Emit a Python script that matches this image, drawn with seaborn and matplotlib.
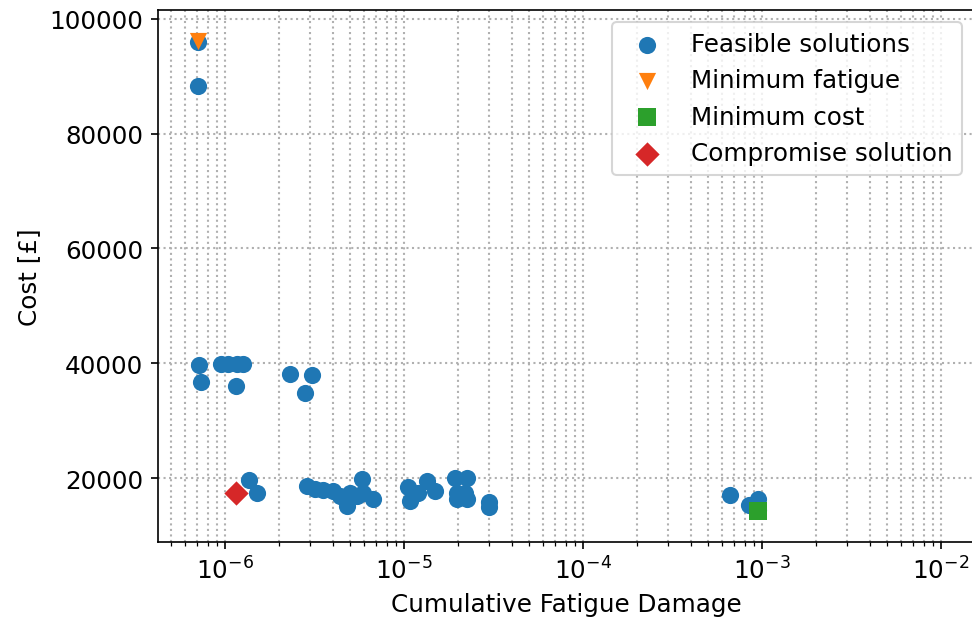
import numpy as np
import pandas as pd
import matplotlib
matplotlib.use("Agg")
import matplotlib.pyplot as plt
import seaborn as sns

# feasible solutions (damage, cost in GBP)
feasible_damage = [7.05e-7, 7.1e-7, 7.17e-7, 7.33e-7, 9.51e-7, 1.045e-6, 1.173e-6, 1.267e-6,
                   1.149e-6, 2.31e-6, 3.08e-6, 2.79e-6,
                   1.363e-6, 1.517e-6,
                   2.86e-6, 3.19e-6, 3.55e-6, 4.03e-6, 4.40e-6, 4.79e-6, 4.79e-6, 5.00e-6,
                   5.45e-6, 5.81e-6, 5.93e-6, 6.75e-6,
                   1.058e-5, 1.081e-5, 1.203e-5, 1.34e-5, 1.49e-5,
                   1.93e-5, 2.24e-5, 1.97e-5, 2.19e-5, 1.97e-5, 2.24e-5,
                   2.99e-5, 2.99e-5,
                   6.64e-4, 9.55e-4, 8.50e-4, 9.55e-4]
feasible_cost = [95900, 88300, 39700, 36700, 39850, 39850, 39800, 39800,
                 36100, 38100, 37950, 34800,
                 19700, 17400,
                 18650, 18100, 17950, 17800, 16900, 15200, 16100, 17500,
                 16900, 19800, 17500, 16450,
                 18400, 16050, 17500, 19550, 17800,
                 20100, 20100, 17500, 17500, 16350, 16350,
                 15800, 15000,
                 17050, 16450, 15300, 14400]

min_fatigue_damage = [7.05e-7]
min_fatigue_cost = [96100]
min_cost_damage = [9.55e-4]
min_cost_cost = [14300]
compromise_damage = [1.149e-6]
compromise_cost = [17400]

plt.rcParams['font.size'] = 11.8

fig, ax = plt.subplots(figsize=(6.48, 4.1733), dpi=150)
fig.subplots_adjust(left=0.1626, right=1.0026, bottom=0.1326, top=0.9824)

sns.scatterplot(x=feasible_damage, y=feasible_cost, color='#1f77b4', marker='o',
                s=68, linewidth=0, label='Feasible solutions', ax=ax, zorder=3)
sns.scatterplot(x=min_fatigue_damage, y=min_fatigue_cost, color='#ff7f0e', marker='v',
                s=68, linewidth=0, label='Minimum fatigue', ax=ax, zorder=4)
sns.scatterplot(x=min_cost_damage, y=min_cost_cost, color='#2ca02c', marker='s',
                s=68, linewidth=0, label='Minimum cost', ax=ax, zorder=4)
sns.scatterplot(x=compromise_damage, y=compromise_cost, color='#d62728', marker='D',
                s=68, linewidth=0, label='Compromise solution', ax=ax, zorder=4)

ax.set_xscale('log')
ax.set_xlim(4.23e-7, 1.54e-2)
ax.set_ylim(8900, 101500)
ax.set_yticks([20000, 40000, 60000, 80000, 100000])
ax.grid(True, which='both', linestyle=':', color='#b0b0b0', linewidth=1.0)
ax.set_axisbelow(True)
ax.set_xlabel('Cumulative Fatigue Damage')
ax.set_ylabel('Cost [£]')
ax.legend(loc='upper right')

fig.savefig('out.png', dpi=150)
